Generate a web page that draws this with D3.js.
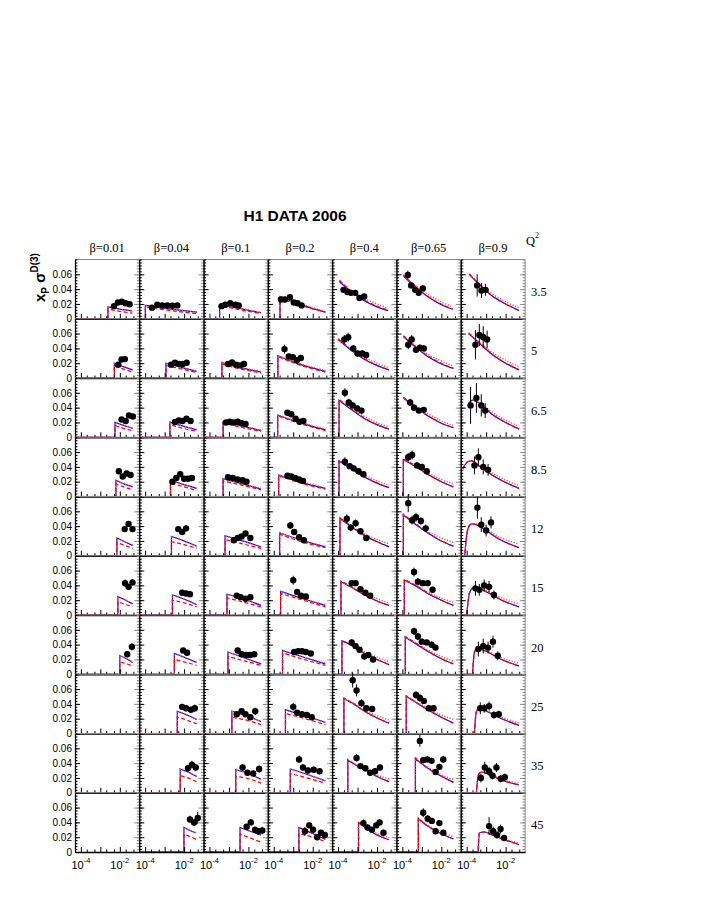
<!DOCTYPE html>
<html><head><meta charset="utf-8">
<script src="https://cdn.jsdelivr.net/npm/d3@7"></script>
<style>body{margin:0;background:#fff}svg{display:block}</style>
</head><body>
<svg id="chart" width="708" height="917"></svg>
<script>
// ---------------- data ----------------
const title = "H1 DATA 2006";
const betas = ["0.01","0.04","0.1","0.2","0.4","0.65","0.9"];
const q2Values = ["3.5","5","6.5","8.5","12","15","20","25","35","45"];
const yTickValues = [0, 0.02, 0.04, 0.06];
const yTickLabels = ["0", "0.02", "0.04", "0.06"];
const xTickLabels = [{v:1e-4, exp:"-4"}, {v:1e-2, exp:"-2"}];

// log10(x_P) where the model curves leave zero (null: no zero segment)
const zeroEnd = [
  [-2.61,-3.99,-3.48,-3.68,null,null,null],
  [-2.28,-2.93,-3.36,-3.79,null,null,null],
  [-2.25,-2.73,-3.30,-3.80,-3.95,null,null],
  [-2.20,-2.70,-3.30,-3.75,-3.95,-3.95,null],
  [-2.15,-2.65,-3.20,-3.70,-3.90,-3.95,-4.10],
  [-2.10,-2.60,-3.10,-3.65,-3.85,-3.90,-4.00],
  [-2.00,-2.50,-3.05,-3.55,-3.80,-3.85,-3.70],
  [null,-2.35,-2.85,-3.40,-3.70,-3.80,-3.60],
  [null,-2.20,-2.65,-3.15,-3.50,-3.33,-3.50],
  [null,-2.01,-2.43,-2.71,-2.95,-3.18,-3.41]
];

// model curves: [log10 x_P, blue solid, red dashed, red dotted]
const modelCurves = [
 [ [[-2.61,0.016,0.013,0.016],[-2.0,0.013,0.010,0.013],[-1.35,0.0105,0.0075,0.010]],
   [[-3.99,0.018,0.016,0.018],[-2.7,0.013,0.011,0.013],[-1.35,0.009,0.007,0.009]],
   [[-3.48,0.019,0.018,0.019],[-2.4,0.0135,0.012,0.014],[-1.35,0.008,0.007,0.0085]],
   [[-3.68,0.030,0.028,0.030],[-2.5,0.018,0.017,0.019],[-1.35,0.009,0.009,0.010]],
   [[-3.93,0.050,0.052,0.051],[-3.3,0.036,0.037,0.038],[-2.7,0.025,0.026,0.028],[-2.0,0.016,0.017,0.020],[-1.43,0.011,0.0115,0.014]],
   [[-3.95,0.058,0.059,0.058],[-3.3,0.042,0.043,0.044],[-2.7,0.030,0.030,0.033],[-2.0,0.019,0.020,0.023],[-1.42,0.013,0.013,0.016]],
   [[-3.87,0.060,0.061,0.060],[-3.3,0.045,0.045,0.046],[-2.7,0.031,0.031,0.034],[-2.0,0.020,0.020,0.023],[-1.31,0.011,0.011,0.0147]] ],
 [ [[-2.28,0.020,0.016,0.020],[-1.8,0.015,0.012,0.015],[-1.34,0.011,0.008,0.011]],
   [[-2.93,0.020,0.017,0.020],[-2.1,0.014,0.012,0.014],[-1.36,0.009,0.0075,0.0095]],
   [[-3.36,0.021,0.019,0.021],[-2.4,0.014,0.012,0.014],[-1.35,0.008,0.007,0.009]],
   [[-3.79,0.030,0.029,0.030],[-2.6,0.018,0.017,0.019],[-1.35,0.009,0.008,0.010]],
   [[-4.0,0.052,0.053,0.052],[-3.3,0.037,0.038,0.039],[-2.7,0.026,0.027,0.029],[-2.0,0.017,0.017,0.020],[-1.38,0.011,0.011,0.014]],
   [[-3.95,0.056,0.057,0.056],[-3.3,0.041,0.042,0.043],[-2.7,0.029,0.030,0.032],[-2.0,0.019,0.020,0.023],[-1.38,0.013,0.013,0.016]],
   [[-3.9,0.060,0.061,0.060],[-3.3,0.046,0.046,0.047],[-2.7,0.032,0.032,0.035],[-2.0,0.020,0.020,0.024],[-1.31,0.011,0.011,0.015]] ],
 [ [[-2.25,0.020,0.016,0.020],[-1.8,0.016,0.012,0.016],[-1.34,0.012,0.009,0.012]],
   [[-2.73,0.0205,0.017,0.0205],[-2.05,0.015,0.012,0.015],[-1.36,0.010,0.008,0.0105]],
   [[-3.3,0.021,0.019,0.021],[-2.3,0.015,0.013,0.015],[-1.35,0.009,0.008,0.0095]],
   [[-3.8,0.030,0.029,0.030],[-2.6,0.019,0.018,0.020],[-1.35,0.010,0.009,0.011]],
   [[-3.95,0.050,0.051,0.050],[-3.3,0.037,0.038,0.039],[-2.7,0.026,0.027,0.029],[-2.0,0.017,0.017,0.020],[-1.38,0.011,0.011,0.014]],
   [[-3.95,0.053,0.054,0.053],[-3.3,0.040,0.041,0.042],[-2.7,0.029,0.029,0.032],[-2.0,0.019,0.019,0.022],[-1.38,0.013,0.013,0.016]],
   [[-3.9,0.045,0.045,0.045],[-3.7,0.050,0.050,0.050],[-3.3,0.045,0.045,0.046],[-2.7,0.031,0.031,0.034],[-2.0,0.020,0.020,0.023],[-1.31,0.011,0.011,0.015]] ],
 [ [[-2.2,0.022,0.017,0.022],[-1.8,0.017,0.013,0.017],[-1.34,0.013,0.009,0.013]],
   [[-2.7,0.022,0.018,0.022],[-2.0,0.016,0.013,0.016],[-1.36,0.011,0.008,0.011]],
   [[-3.3,0.024,0.021,0.024],[-2.3,0.017,0.015,0.017],[-1.35,0.010,0.009,0.011]],
   [[-3.75,0.029,0.028,0.029],[-2.6,0.019,0.018,0.020],[-1.35,0.011,0.010,0.012]],
   [[-3.95,0.048,0.049,0.048],[-3.3,0.037,0.038,0.039],[-2.7,0.027,0.028,0.030],[-2.0,0.018,0.018,0.021],[-1.38,0.012,0.012,0.015]],
   [[-3.95,0.050,0.051,0.050],[-3.3,0.040,0.041,0.041],[-2.7,0.030,0.030,0.032],[-2.0,0.020,0.020,0.023],[-1.38,0.013,0.013,0.017]],
   [[-4.2,0.037,0.037,0.037],[-3.95,0.047,0.047,0.047],[-3.75,0.048,0.048,0.048],[-3.3,0.040,0.040,0.041],[-2.7,0.029,0.029,0.032],[-2.0,0.019,0.019,0.022],[-1.31,0.011,0.011,0.015]] ],
 [ [[-2.15,0.024,0.018,0.024],[-1.75,0.019,0.014,0.019],[-1.34,0.014,0.010,0.014]],
   [[-2.65,0.026,0.019,0.026],[-2.0,0.020,0.015,0.020],[-1.36,0.013,0.010,0.013]],
   [[-3.2,0.027,0.022,0.027],[-2.3,0.020,0.016,0.020],[-1.35,0.012,0.010,0.012]],
   [[-3.7,0.031,0.029,0.031],[-2.6,0.021,0.019,0.021],[-1.35,0.012,0.011,0.013]],
   [[-3.9,0.050,0.051,0.050],[-3.3,0.039,0.040,0.040],[-2.7,0.028,0.029,0.030],[-2.0,0.019,0.019,0.022],[-1.38,0.012,0.012,0.016]],
   [[-3.95,0.055,0.056,0.055],[-3.3,0.042,0.043,0.043],[-2.7,0.031,0.031,0.033],[-2.0,0.020,0.020,0.024],[-1.38,0.013,0.013,0.018]],
   [[-4.1,0,0,0],[-3.95,0.035,0.035,0.035],[-3.75,0.043,0.043,0.043],[-3.5,0.042,0.042,0.043],[-3.0,0.034,0.034,0.036],[-2.3,0.022,0.022,0.025],[-1.31,0.011,0.011,0.016]] ],
 [ [[-2.1,0.025,0.018,0.025],[-1.7,0.020,0.014,0.020],[-1.34,0.015,0.011,0.015]],
   [[-2.6,0.027,0.020,0.027],[-1.95,0.021,0.016,0.021],[-1.36,0.014,0.011,0.014]],
   [[-3.1,0.028,0.023,0.028],[-2.2,0.021,0.017,0.021],[-1.35,0.013,0.011,0.013]],
   [[-3.65,0.032,0.029,0.032],[-2.5,0.022,0.020,0.022],[-1.35,0.013,0.011,0.014]],
   [[-3.85,0.045,0.046,0.045],[-3.3,0.037,0.038,0.038],[-2.7,0.028,0.028,0.030],[-2.0,0.019,0.019,0.022],[-1.38,0.013,0.013,0.016]],
   [[-3.9,0.047,0.048,0.047],[-3.3,0.039,0.040,0.040],[-2.7,0.029,0.030,0.031],[-2.0,0.020,0.020,0.023],[-1.38,0.013,0.013,0.017]],
   [[-4.0,0,0,0],[-3.85,0.030,0.030,0.030],[-3.65,0.037,0.037,0.037],[-3.4,0.036,0.036,0.037],[-2.9,0.030,0.030,0.032],[-2.2,0.020,0.020,0.023],[-1.31,0.011,0.011,0.015]] ],
 [ [[-2.0,0.025,0.017,0.025],[-1.65,0.021,0.014,0.021],[-1.34,0.016,0.011,0.016]],
   [[-2.5,0.028,0.020,0.028],[-1.9,0.022,0.016,0.022],[-1.36,0.016,0.012,0.016]],
   [[-3.05,0.030,0.024,0.030],[-2.2,0.022,0.018,0.022],[-1.35,0.014,0.012,0.014]],
   [[-3.55,0.032,0.029,0.032],[-2.45,0.023,0.020,0.023],[-1.35,0.014,0.012,0.015]],
   [[-3.8,0.045,0.046,0.045],[-3.3,0.039,0.039,0.040],[-2.7,0.029,0.029,0.031],[-2.0,0.020,0.020,0.023],[-1.38,0.013,0.013,0.017]],
   [[-3.85,0.050,0.051,0.050],[-3.3,0.041,0.042,0.042],[-2.7,0.031,0.031,0.033],[-2.0,0.021,0.021,0.024],[-1.38,0.014,0.014,0.018]],
   [[-3.7,0,0,0],[-3.6,0.030,0.030,0.030],[-3.45,0.035,0.035,0.035],[-3.0,0.031,0.031,0.032],[-2.3,0.021,0.021,0.023],[-1.31,0.011,0.011,0.015]] ],
 [ null,
   [[-2.35,0.030,0.022,0.030],[-1.85,0.025,0.018,0.025],[-1.36,0.019,0.013,0.019]],
   [[-2.85,0.030,0.022,0.030],[-2.1,0.024,0.018,0.024],[-1.35,0.016,0.012,0.016]],
   [[-3.4,0.032,0.027,0.032],[-2.4,0.024,0.020,0.024],[-1.35,0.015,0.012,0.015]],
   [[-3.7,0.047,0.048,0.047],[-3.2,0.040,0.040,0.041],[-2.7,0.031,0.031,0.032],[-2.0,0.021,0.021,0.024],[-1.38,0.014,0.014,0.018]],
   [[-3.8,0.050,0.051,0.050],[-3.3,0.042,0.042,0.043],[-2.7,0.032,0.032,0.034],[-2.0,0.022,0.022,0.025],[-1.38,0.014,0.014,0.019]],
   [[-3.6,0,0,0],[-3.5,0.030,0.030,0.030],[-3.35,0.034,0.034,0.034],[-2.9,0.029,0.029,0.030],[-2.2,0.020,0.020,0.022],[-1.31,0.011,0.011,0.014]] ],
 [ null,
   [[-2.2,0.032,0.023,0.032],[-1.8,0.028,0.020,0.028],[-1.36,0.022,0.015,0.022]],
   [[-2.65,0.031,0.022,0.031],[-2.0,0.026,0.019,0.026],[-1.35,0.018,0.013,0.018]],
   [[-3.15,0.032,0.026,0.032],[-2.3,0.025,0.020,0.025],[-1.35,0.016,0.013,0.016]],
   [[-3.5,0.044,0.045,0.044],[-3.0,0.036,0.036,0.037],[-2.5,0.029,0.029,0.030],[-2.0,0.022,0.022,0.024],[-1.38,0.015,0.015,0.019]],
   [[-3.33,0.046,0.047,0.046],[-2.9,0.037,0.037,0.038],[-2.4,0.028,0.028,0.030],[-1.9,0.021,0.021,0.023],[-1.38,0.014,0.014,0.018]],
   [[-3.5,0,0,0],[-3.4,0.024,0.024,0.024],[-3.25,0.028,0.028,0.028],[-2.8,0.024,0.024,0.025],[-2.2,0.017,0.017,0.018],[-1.31,0.0105,0.0105,0.013]] ],
 [ null,
   [[-2.01,0.033,0.024,0.033],[-1.7,0.029,0.021,0.029],[-1.39,0.026,0.017,0.026]],
   [[-2.43,0.033,0.024,0.033],[-1.9,0.028,0.019,0.028],[-1.35,0.023,0.013,0.023]],
   [[-2.71,0.033,0.025,0.033],[-2.0,0.025,0.020,0.026],[-1.35,0.017,0.014,0.018]],
   [[-2.95,0.040,0.041,0.040],[-2.5,0.031,0.031,0.032],[-2.0,0.023,0.023,0.025],[-1.38,0.0165,0.0165,0.019]],
   [[-3.18,0.045,0.046,0.045],[-2.7,0.035,0.035,0.036],[-2.1,0.026,0.026,0.028],[-1.38,0.0175,0.0175,0.021]],
   [[-3.41,0,0,0],[-3.35,0.026,0.026,0.026],[-3.1,0.027,0.027,0.027],[-2.6,0.022,0.022,0.023],[-2.0,0.016,0.016,0.017],[-1.31,0.010,0.010,0.012]] ]
];

// data points: [log10 x_P, x_P sigma_r^D(3), error]
const dataPoints = [
 [ [[-2.3,0.017,0.002],[-2.1,0.022,0.002],[-1.9,0.023,0.002],[-1.7,0.021,0.002],[-1.5,0.0195,0.002]],
   [[-3.65,0.015,0.002],[-3.38,0.019,0.002],[-3.12,0.018,0.002],[-2.86,0.018,0.002],[-2.6,0.0175,0.002],[-2.35,0.018,0.002]],
   [[-3.38,0.017,0.002],[-3.18,0.019,0.002],[-2.93,0.021,0.002],[-2.68,0.019,0.002],[-2.5,0.018,0.002]],
   [[-3.63,0.026,0.003],[-3.43,0.026,0.003],[-3.17,0.029,0.003],[-2.97,0.022,0.002],[-2.78,0.021,0.002],[-2.57,0.018,0.002]],
   [[-3.72,0.039,0.003],[-3.52,0.036,0.003],[-3.34,0.035,0.003],[-3.12,0.035,0.003],[-2.9,0.028,0.003],[-2.66,0.030,0.003]],
   [[-3.72,0.059,0.006],[-3.55,0.045,0.004],[-3.34,0.039,0.004],[-3.16,0.035,0.004],[-2.95,0.041,0.004]],
   [[-3.46,0.045,0.015],[-3.24,0.038,0.010],[-3.03,0.039,0.008]] ],
 [ [[-2.08,0.018,0.002],[-1.91,0.025,0.002],[-1.74,0.0255,0.002]],
   [[-2.67,0.018,0.002],[-2.47,0.0205,0.002],[-2.26,0.019,0.002],[-2.07,0.019,0.002],[-1.87,0.0205,0.002]],
   [[-3.05,0.019,0.002],[-2.84,0.021,0.002],[-2.64,0.018,0.002],[-2.43,0.017,0.002],[-2.23,0.019,0.002]],
   [[-3.45,0.039,0.006],[-3.23,0.029,0.003],[-3.02,0.028,0.003],[-2.81,0.024,0.003],[-2.61,0.027,0.003]],
   [[-3.68,0.052,0.006],[-3.48,0.055,0.006],[-3.22,0.040,0.004],[-3.0,0.033,0.004],[-2.76,0.033,0.003],[-2.56,0.031,0.003]],
   [[-3.7,0.045,0.006],[-3.52,0.052,0.006],[-3.3,0.038,0.004],[-3.1,0.041,0.004],[-2.9,0.040,0.004]],
   [[-3.55,0.045,0.020],[-3.35,0.058,0.015],[-3.15,0.055,0.015],[-2.95,0.052,0.012]] ],
 [ [[-1.91,0.024,0.002],[-1.7,0.022,0.002],[-1.53,0.0295,0.003],[-1.33,0.028,0.003]],
   [[-2.47,0.0205,0.002],[-2.27,0.0227,0.002],[-2.08,0.022,0.002],[-1.88,0.025,0.002],[-1.67,0.022,0.002]],
   [[-3.15,0.020,0.002],[-2.95,0.021,0.002],[-2.75,0.020,0.002],[-2.55,0.021,0.002],[-2.35,0.019,0.002],[-2.15,0.018,0.002]],
   [[-3.3,0.033,0.004],[-3.1,0.031,0.003],[-2.88,0.025,0.003],[-2.68,0.021,0.003],[-2.48,0.022,0.003]],
   [[-3.65,0.060,0.006],[-3.45,0.047,0.005],[-3.25,0.043,0.004],[-3.02,0.039,0.004],[-2.8,0.036,0.004]],
   [[-3.6,0.047,0.005],[-3.4,0.040,0.004],[-3.15,0.036,0.004],[-2.9,0.037,0.004]],
   [[-3.8,0.043,0.025],[-3.5,0.053,0.020],[-3.25,0.043,0.015],[-3.05,0.036,0.010]] ],
 [ [[-2.05,0.034,0.004],[-1.85,0.027,0.003],[-1.65,0.031,0.003],[-1.45,0.029,0.003]],
   [[-2.6,0.020,0.003],[-2.4,0.025,0.003],[-2.2,0.030,0.003],[-2.0,0.024,0.003],[-1.8,0.024,0.003],[-1.6,0.025,0.003]],
   [[-3.05,0.026,0.003],[-2.8,0.025,0.003],[-2.55,0.023,0.003],[-2.3,0.022,0.003],[-2.1,0.020,0.003]],
   [[-3.3,0.028,0.003],[-3.1,0.027,0.003],[-2.9,0.025,0.003],[-2.7,0.023,0.003],[-2.5,0.021,0.003]],
   [[-3.65,0.047,0.006],[-3.4,0.041,0.004],[-3.2,0.038,0.004],[-2.95,0.034,0.004],[-2.7,0.030,0.004]],
   [[-3.7,0.053,0.006],[-3.5,0.056,0.006],[-3.25,0.042,0.004],[-3.0,0.040,0.004],[-2.75,0.034,0.004]],
   [[-3.6,0.042,0.012],[-3.4,0.053,0.012],[-3.15,0.040,0.010],[-2.9,0.036,0.008]] ],
 [ [[-1.75,0.036,0.004],[-1.55,0.043,0.004],[-1.35,0.036,0.004]],
   [[-2.3,0.036,0.004],[-2.1,0.032,0.004],[-1.9,0.037,0.004]],
   [[-2.75,0.021,0.003],[-2.55,0.024,0.003],[-2.35,0.026,0.003],[-2.15,0.030,0.003],[-1.9,0.024,0.004]],
   [[-3.15,0.041,0.005],[-2.95,0.032,0.004],[-2.7,0.025,0.003],[-2.45,0.021,0.003]],
   [[-3.55,0.050,0.006],[-3.35,0.038,0.005],[-3.1,0.044,0.005],[-2.85,0.033,0.004],[-2.55,0.024,0.004]],
   [[-3.7,0.071,0.012],[-3.5,0.048,0.006],[-3.3,0.052,0.006],[-3.05,0.047,0.005],[-2.8,0.037,0.005]],
   [[-3.45,0.065,0.015],[-3.25,0.042,0.010],[-3.0,0.034,0.008],[-2.75,0.045,0.008]] ],
 [ [[-1.73,0.043,0.005],[-1.55,0.038,0.004],[-1.35,0.044,0.004]],
   [[-2.1,0.030,0.003],[-1.9,0.029,0.003],[-1.7,0.028,0.003]],
   [[-2.6,0.026,0.003],[-2.4,0.024,0.003],[-2.15,0.022,0.003],[-1.9,0.024,0.003]],
   [[-3.0,0.047,0.006],[-2.8,0.031,0.004],[-2.6,0.026,0.003],[-2.35,0.025,0.003]],
   [[-3.3,0.043,0.004],[-3.1,0.043,0.004],[-2.85,0.035,0.004],[-2.6,0.030,0.003],[-2.35,0.026,0.003]],
   [[-3.4,0.058,0.006],[-3.2,0.045,0.005],[-2.95,0.043,0.004],[-2.7,0.043,0.004],[-2.45,0.034,0.004]],
   [[-3.55,0.036,0.010],[-3.35,0.034,0.008],[-3.1,0.040,0.008],[-2.85,0.038,0.008],[-2.6,0.027,0.006]] ],
 [ [[-1.62,0.027,0.004],[-1.38,0.037,0.005]],
   [[-2.05,0.032,0.003],[-1.85,0.029,0.003]],
   [[-2.55,0.032,0.003],[-2.35,0.027,0.003],[-2.1,0.026,0.003],[-1.9,0.026,0.003],[-1.7,0.027,0.003]],
   [[-2.95,0.030,0.003],[-2.75,0.031,0.003],[-2.55,0.031,0.003],[-2.35,0.030,0.003],[-2.1,0.028,0.003]],
   [[-3.3,0.043,0.004],[-3.1,0.038,0.004],[-2.9,0.033,0.004],[-2.65,0.024,0.003],[-2.45,0.026,0.003],[-2.2,0.020,0.003]],
   [[-3.4,0.058,0.005],[-3.2,0.051,0.005],[-3.0,0.044,0.004],[-2.75,0.043,0.004],[-2.5,0.040,0.004],[-2.3,0.036,0.004]],
   [[-3.4,0.034,0.010],[-3.15,0.038,0.010],[-2.9,0.036,0.008],[-2.65,0.044,0.008],[-2.4,0.025,0.006]] ],
 [ [],
   [[-2.1,0.036,0.004],[-1.9,0.034,0.004],[-1.65,0.032,0.004],[-1.45,0.034,0.005]],
   [[-2.6,0.026,0.003],[-2.35,0.030,0.003],[-2.15,0.026,0.003],[-1.9,0.022,0.003],[-1.65,0.030,0.005]],
   [[-3.0,0.036,0.005],[-2.8,0.028,0.003],[-2.55,0.026,0.003],[-2.3,0.025,0.003],[-2.05,0.022,0.003]],
   [[-3.25,0.072,0.010],[-3.05,0.058,0.008],[-2.8,0.041,0.005],[-2.55,0.034,0.004],[-2.25,0.033,0.004]],
   [[-3.3,0.052,0.005],[-3.1,0.048,0.005],[-2.9,0.044,0.004],[-2.65,0.034,0.004],[-2.4,0.034,0.004]],
   [[-3.3,0.034,0.008],[-3.1,0.034,0.006],[-2.85,0.037,0.006],[-2.6,0.025,0.005],[-2.35,0.026,0.005]] ],
 [ [],
   [[-1.8,0.033,0.004],[-1.6,0.038,0.005],[-1.4,0.034,0.005]],
   [[-2.3,0.034,0.004],[-2.05,0.027,0.004],[-1.75,0.026,0.004],[-1.45,0.032,0.005]],
   [[-2.7,0.045,0.005],[-2.5,0.034,0.004],[-2.25,0.030,0.004],[-1.95,0.031,0.004],[-1.65,0.029,0.004]],
   [[-3.05,0.047,0.005],[-2.85,0.036,0.004],[-2.6,0.033,0.004],[-2.35,0.027,0.004],[-2.1,0.029,0.004],[-1.85,0.034,0.004]],
   [[-3.1,0.070,0.008],[-2.93,0.044,0.004],[-2.72,0.045,0.004],[-2.5,0.043,0.004],[-2.29,0.028,0.004],[-2.1,0.035,0.004],[-1.9,0.045,0.005]],
   [[-3.27,0.020,0.006],[-3.07,0.034,0.008],[-2.85,0.029,0.006],[-2.67,0.023,0.005],[-2.47,0.034,0.006],[-2.25,0.019,0.005],[-2.04,0.021,0.005]] ],
 [ [],
   [[-1.7,0.044,0.005],[-1.49,0.040,0.005],[-1.3,0.046,0.008]],
   [[-2.09,0.034,0.004],[-1.88,0.040,0.004],[-1.66,0.030,0.004],[-1.49,0.028,0.004],[-1.29,0.029,0.005]],
   [[-2.4,0.028,0.006],[-2.18,0.036,0.004],[-1.98,0.030,0.004],[-1.77,0.020,0.004],[-1.58,0.026,0.004],[-1.38,0.023,0.004]],
   [[-2.7,0.039,0.005],[-2.49,0.033,0.004],[-2.26,0.030,0.004],[-2.04,0.036,0.004],[-1.87,0.040,0.004],[-1.67,0.026,0.004]],
   [[-2.93,0.053,0.006],[-2.7,0.045,0.005],[-2.49,0.042,0.004],[-2.29,0.028,0.004],[-2.1,0.039,0.004],[-1.9,0.026,0.004]],
   [[-2.85,0.035,0.012],[-2.64,0.028,0.006],[-2.44,0.023,0.005],[-2.26,0.031,0.006],[-2.08,0.019,0.004]] ]
];

// ---------------- drawing ----------------
const svg = d3.select("#chart");
const gridLeft = 75, gridTop = 259.5, colW = 64.3, rowH = 59.25;
const xDomain = [5e-5, 0.1];
const yDomain = [0, 0.08];
const sans = "'Liberation Sans', Arial, Helvetica, sans-serif";
const serif = "'Liberation Serif', 'Times New Roman', serif";

svg.append("rect").attr("width",708).attr("height",917).attr("fill","#fff");

// title
svg.append("text").attr("x", 295).attr("y", 221).attr("text-anchor","middle")
  .attr("font-family", sans).attr("font-weight","bold").attr("font-size", 15.5).text(title);

// beta headers
betas.forEach((b,c) => {
  svg.append("text").attr("x", gridLeft + colW*(c+0.5)).attr("y", 252)
    .attr("text-anchor","middle").attr("font-family", serif).attr("font-size", 12.5)
    .text("\u03b2=" + b);
});
// Q2 header
const q2h = svg.append("text").attr("x", 526).attr("y", 245).attr("font-family", serif).attr("font-size", 12.5);
q2h.append("tspan").text("Q");
q2h.append("tspan").attr("font-size", 8).attr("dy", -7).text("2");

q2Values.forEach((q,r) => {
  svg.append("text").attr("x", 531).attr("y", gridTop + rowH*(r+0.5) + 7)
    .attr("font-family", serif).attr("font-size", 12.5).text(q);
});

// y-axis title
const yt = svg.append("text").attr("transform","translate(45,302) rotate(-90)")
  .attr("font-family", sans).attr("font-weight","bold").attr("font-size", 15);
yt.append("tspan").text("x");
yt.append("tspan").attr("font-size", 10).attr("dy", 4).text("P");
yt.append("tspan").attr("dy", -4).text(" \u03c3");
yt.append("tspan").attr("font-size", 10).attr("dy", -7).text("D(3)");

const seriesStyle = [
  {k:1, color:"#0000ff", dash:null, width:1.2},
  {k:3, color:"#ff4d4d", dash:"1.2,1.6", width:1.4},
  {k:2, color:"#ff0000", dash:"4,2.5", width:1.2}
];

for (let r = 0; r < q2Values.length; r++) {
  for (let c = 0; c < betas.length; c++) {
    const x0 = gridLeft + c*colW, y0 = gridTop + r*rowH;
    const g = svg.append("g").attr("transform", `translate(${x0},${y0})`);
    const x = d3.scaleLog().domain(xDomain).range([0, colW]);
    const y = d3.scaleLinear().domain(yDomain).range([rowH, 0]);

    // frame top/right (gray)
    g.append("line").attr("x1",0).attr("x2",colW).attr("y1",0).attr("y2",0).attr("stroke","#888").attr("stroke-width",1);
    g.append("line").attr("x1",colW).attr("x2",colW).attr("y1",0).attr("y2",rowH).attr("stroke","#888").attr("stroke-width",1);

    // right ticks (inward)
    const rAxis = d3.axisRight(y).tickValues(yTickValues).tickSize(-5).tickSizeOuter(0).tickFormat("");
    const rg = g.append("g").attr("transform",`translate(${colW},0)`).call(rAxis);
    rg.select(".domain").remove(); rg.selectAll("line").attr("stroke","#888");
    const rAxisMin = d3.axisRight(y).tickValues(d3.range(0, 0.0801, 0.004)).tickSize(-2.5).tickSizeOuter(0).tickFormat("");
    const rgm = g.append("g").attr("transform",`translate(${colW},0)`).call(rAxisMin);
    rgm.select(".domain").remove(); rgm.selectAll("line").attr("stroke","#888");

    // model curves
    const kn = modelCurves[r][c];
    if (kn) {
      const ze = zeroEnd[r][c];
      seriesStyle.forEach(s => {
        const pts = kn.map(d => [x(Math.pow(10, d[0])), y(d[s.k])]);
        let p = "";
        if (ze !== null) {
          p = d3.line()([[x(xDomain[0]), y(0)], [x(Math.pow(10, ze)), y(0)]]);
          p += d3.line().curve(d3.curveMonotoneX)(pts).replace(/^M/, "L");
        } else {
          p = d3.line().curve(d3.curveMonotoneX)(pts);
        }
        const path = g.append("path").attr("d", p).attr("fill","none")
          .attr("stroke", s.color).attr("stroke-width", s.width);
        if (s.dash) path.attr("stroke-dasharray", s.dash);
      });
    }

    // data points
    const pts = dataPoints[r][c];
    pts.forEach(d => {
      const px = x(Math.pow(10, d[0]));
      g.append("line").attr("x1",px).attr("x2",px)
        .attr("y1", y(d[1]-d[2])).attr("y2", y(d[1]+d[2])).attr("stroke","#000").attr("stroke-width",1);
      g.append("circle").attr("cx",px).attr("cy",y(d[1])).attr("r",3.2).attr("fill","#000");
    });

    // left axis
    const lAxis = d3.axisLeft(y).tickValues(yTickValues).tickSize(-5).tickSizeOuter(0).tickPadding(3)
      .tickFormat((d,i) => c === 0 ? yTickLabels[i] : "");
    const lg = g.append("g").call(lAxis);
    lg.select(".domain").attr("stroke","#000").attr("stroke-width",1.3);
    lg.selectAll("text").attr("font-family", sans).attr("font-size", 10).attr("fill","#000");
    const lAxisMin = d3.axisLeft(y).tickValues(d3.range(0, 0.0801, 0.004)).tickSize(-2.5).tickSizeOuter(0).tickFormat("");
    const lgm = g.append("g").call(lAxisMin);
    lgm.select(".domain").remove();

    // bottom axis
    const bAxis = d3.axisBottom(x).tickValues([1e-4, 1e-3, 1e-2]).tickSize(-5).tickSizeOuter(0).tickFormat("");
    const bg = g.append("g").attr("transform",`translate(0,${rowH})`).call(bAxis);
    bg.select(".domain").attr("stroke","#000").attr("stroke-width",1.5);
    const minorX = [];
    [1e-5,1e-4,1e-3,1e-2].forEach(dd => [2,5].forEach(m => { const v = dd*m; if (v > xDomain[0] && v < xDomain[1]) minorX.push(v); }));
    const bAxisMin = d3.axisBottom(x).tickValues(minorX).tickSize(-2.5).tickSizeOuter(0).tickFormat("");
    const bgm = g.append("g").attr("transform",`translate(0,${rowH})`).call(bAxisMin);
    bgm.select(".domain").remove();

    // x tick labels on bottom row
    if (r === q2Values.length - 1) {
      xTickLabels.forEach(t => {
        const tx = g.append("text").attr("x", x(t.v)).attr("y", rowH + 16.5)
          .attr("text-anchor","middle").attr("font-family", sans).attr("font-size", 11);
        tx.append("tspan").text("10");
        tx.append("tspan").attr("font-size", 7.5).attr("dy", -6).text(t.exp);
      });
    }
  }
}
</script>
</body></html>
